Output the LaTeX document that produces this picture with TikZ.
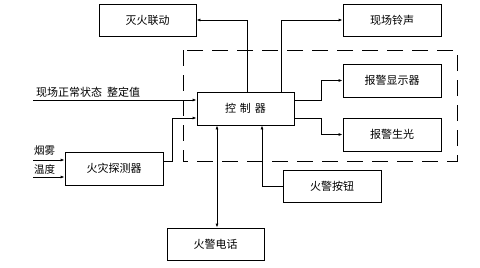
\documentclass[tikz,border=0pt]{standalone}
\usepackage{fontspec}
\newfontfamily\cjk{Noto Sans CJK SC}
\usetikzlibrary{arrows.meta,positioning,calc}
\definecolor{ink}{HTML}{000000}
\tikzset{
  >={Latex[length=4pt,width=3pt]},
  every node/.style={font=\cjk\fontsize{11}{13}\selectfont,text=ink},
  box/.style={draw=ink,line width=0.8pt,minimum width=97pt,minimum height=32pt,inner sep=0pt,align=center},
  arrow/.style={->,line width=0.8pt,draw=ink},
  dblarrow/.style={<->,line width=0.8pt,draw=ink},
  plain/.style={line width=0.8pt,draw=ink},
  zone/.style={line width=0.8pt,draw=ink,dash pattern=on 16pt off 9pt},
  label/.style={inner sep=0pt,anchor=west},
}

\begin{document}
\begin{tikzpicture}[x=1pt,y=-1pt]
\useasboundingbox (0,0) rectangle (480,268);

% monitored zone
\draw[zone] (183,50) rectangle (457,161);

% boxes
\node[box,minimum height=33pt] (ctrl) at (245.5,108.5) {控\hspace{4pt}制\hspace{4pt}器};
\node[box] (mh) at (147.5,20) {灭火联动};
\node[box,minimum width=98pt] (bell) at (392,20) {现场铃声};
\node[box,minimum width=98pt,minimum height=33pt] (disp) at (392,80.5) {报警显示器};
\node[box,minimum width=98pt,minimum height=33pt] (lamp) at (392,134.5) {报警生光};
\node[box,minimum width=98pt,minimum height=33pt] (det) at (114,168.5) {火灾探测器};
\node[box,minimum width=98pt] (btn) at (332,186) {火警按钮};
\node[box] (tel) at (215.5,244) {火警电话};

% input labels
\node[label] (state) at (36,92) {现场正常状态\hspace{5pt}整定值};
\node[label,font=\cjk\fontsize{10.5}{12}\selectfont] (smoke) at (34,151) {烟雾};
\node[label,font=\cjk\fontsize{10.5}{12}\selectfont] (temp) at (34,169.5) {温度};
\coordinate (inA) at (33,100);
\coordinate (inB) at (33,160);
\coordinate (inC) at (33,177);

% inputs
\draw[arrow] (inA) -- ([yshift=8.5pt]ctrl.west);
\draw[arrow] (inB) -- ([yshift=8.5pt]det.west);
\draw[arrow] (inC) -- ([yshift=-8.5pt]det.west);
\draw[arrow] ([yshift=7.5pt]det.east) -- ++(9,0) |- ([yshift=-9.5pt]ctrl.west);
\draw[arrow] (btn.west) -| ([xshift=16.5pt]ctrl.south);

% outputs
\draw[arrow] ([xshift=1.5pt]ctrl.north) |- (mh.east);
\draw[arrow] ([xshift=35.5pt]ctrl.north) |- (bell.west);
\draw[arrow] ([yshift=8.5pt]ctrl.east) -- ++(27,0) |- (disp.west);
\draw[arrow] ([yshift=-9.5pt]ctrl.east) -- ++(27,0) |- (lamp.west);
\draw[dblarrow] ([xshift=-28.5pt]ctrl.south) -- ([xshift=-28.5pt]ctrl.south |- tel.north);

\end{tikzpicture}
\end{document}
